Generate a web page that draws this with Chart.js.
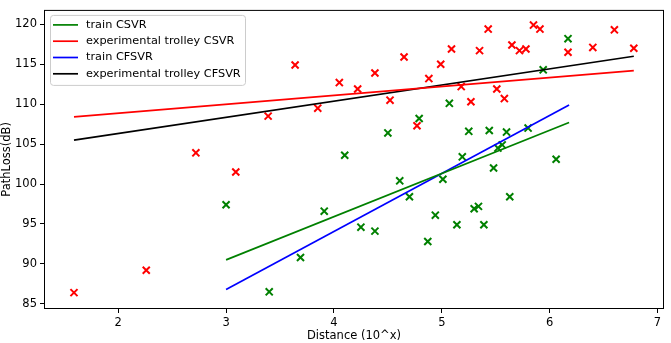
<!DOCTYPE html>
<html>
<head>
<meta charset="utf-8">
<script src="https://cdn.jsdelivr.net/npm/chart.js@4"></script>
<style>
  html, body { margin: 0; padding: 0; background: #fff; }
  #wrap { width: 671px; height: 343px; }
</style>
</head>
<body>
<div id="wrap"><canvas id="plChart"></canvas></div>
<script>
// measured points (distance as 10^x, path loss dB)
const trainX = [3.00, 3.40, 3.69, 3.91, 4.10, 4.25, 4.38, 4.50, 4.61, 4.70, 4.79, 4.87, 4.94, 5.01, 5.07, 5.14,
  5.19, 5.25, 5.30, 5.34, 5.39, 5.44, 5.48, 5.52, 5.56, 5.60, 5.63, 5.80, 5.94, 6.06, 6.17];
const trainY = [97.4, 86.5, 90.8, 96.6, 103.6, 94.6, 94.1, 106.4, 100.4, 98.4, 108.2, 92.8, 96.1, 100.6, 110.1, 94.9,
  103.4, 106.6, 96.9, 97.2, 94.9, 106.7, 102.0, 104.5, 104.9, 106.5, 98.4, 107.0, 114.3, 103.1, 118.2];

const trolleyX = [1.59, 2.26, 2.72, 3.09, 3.39, 3.64, 3.85, 4.05, 4.22, 4.38, 4.52, 4.65, 4.77, 4.88, 4.99, 5.09,
  5.18, 5.27, 5.35, 5.43, 5.51, 5.58, 5.65, 5.72, 5.78, 5.85, 5.91, 6.17, 6.40, 6.60, 6.78];
const trolleyY = [86.4, 89.2, 103.9, 101.5, 108.5, 114.9, 109.5, 112.7, 111.9, 113.9, 110.5, 115.9, 107.3, 113.2, 115.0, 116.9,
  112.2, 110.3, 116.7, 119.4, 111.9, 110.7, 117.4, 116.7, 116.9, 119.9, 119.4, 116.5, 117.1, 119.3, 117.0];

// fitted lines (start / end)
const trainLineX = [3.0, 6.18];
const trainCSVR = [90.5, 107.7];
const trainCFSVR = [86.8, 109.9];
const trolleyLineX = [1.59, 6.78];
const trolleyCSVR = [108.4, 114.2];
const trolleyCFSVR = [105.5, 116.0];

const xTicks = [2, 3, 4, 5, 6, 7];
const yTicks = [85, 90, 95, 100, 105, 110, 115, 120];

const toPts = (xs, ys) => xs.map((x, i) => ({ x: x, y: ys[i] }));

function lineSet(label, ys, xs, color) {
  return {
    type: 'line', label: label, data: toPts(xs, ys),
    borderColor: color, backgroundColor: color, borderWidth: 1.7,
    pointRadius: 0, fill: false, isLine: true
  };
}
function dotSet(label, xs, ys, color) {
  return {
    type: 'scatter', label: label, data: toPts(xs, ys),
    pointStyle: 'crossRot', pointRadius: 5, pointBorderWidth: 2,
    borderColor: color, backgroundColor: color
  };
}

const font = { family: 'DejaVu Sans', size: 11.5 };

new Chart(document.getElementById('plChart'), {
  data: {
    datasets: [
      lineSet('train CSVR', trainCSVR, trainLineX, 'green'),
      lineSet('experimental trolley CSVR', trolleyCSVR, trolleyLineX, '#ff0000'),
      lineSet('train CFSVR', trainCFSVR, trainLineX, '#0000ff'),
      lineSet('experimental trolley CFSVR', trolleyCFSVR, trolleyLineX, '#000000'),
      dotSet('train data', trainX, trainY, 'green'),
      dotSet('trolley data', trolleyX, trolleyY, '#ff0000')
    ]
  },
  options: {
    responsive: true,
    maintainAspectRatio: false,
    animation: false,
    layout: { padding: { top: 0, right: 1, left: 0, bottom: 0 } },
    plugins: {
      legend: { display: false },
      tooltip: { enabled: false }
    },
    scales: {
      x: {
        type: 'linear', min: 1.312, max: 7.06,
        afterBuildTicks: s => { s.ticks = xTicks.map(v => ({ value: v })); },
        afterFit: s => { s.height = 34; },
        grid: { drawOnChartArea: false, drawTicks: true, tickLength: 4, color: '#000', tickColor: '#000' },
        border: { display: false },
        ticks: { color: '#000', font: font, padding: 3, maxRotation: 0 },
        title: { display: true, text: 'Distance (10^x)', color: '#000', font: font, padding: { top: 0, bottom: 0 } }
      },
      y: {
        type: 'linear', min: 84.35, max: 121.8,
        afterBuildTicks: s => { s.ticks = yTicks.map(v => ({ value: v })); },
        afterFit: s => { s.width = 44; },
        grid: { drawOnChartArea: false, drawTicks: true, tickLength: 4, color: '#000', tickColor: '#000' },
        border: { display: false },
        ticks: { color: '#000', font: font, padding: 3 },
        title: { display: true, text: 'PathLoss(dB)', color: '#000', font: font, padding: { top: 0, bottom: 0 } }
      }
    }
  },
  plugins: [{
    id: 'frameAndLegend',
    afterDraw: function (chart) {
      const { ctx, chartArea: a } = chart;
      ctx.save();
      ctx.strokeStyle = '#000';
      ctx.lineWidth = 1;
      ctx.strokeRect(a.left + 0.5, a.top + 0.5, a.right - a.left - 1, a.bottom - a.top - 1);

      // legend box in the upper left, only the fitted lines
      const items = chart.data.datasets.filter(d => d.isLine);
      const bx = a.left + 6, by = a.top + 5, bw = 195, bh = 70;
      ctx.fillStyle = 'rgba(255,255,255,0.8)';
      ctx.strokeStyle = '#cccccc';
      ctx.beginPath();
      ctx.roundRect(bx + 0.5, by + 0.5, bw, bh, 3);
      ctx.fill();
      ctx.stroke();

      ctx.font = '11.3px "DejaVu Sans"';
      ctx.textBaseline = 'middle';
      items.forEach((d, i) => {
        const yy = by + 10 + i * 16.3;
        ctx.strokeStyle = d.borderColor;
        ctx.lineWidth = 1.7;
        ctx.beginPath();
        ctx.moveTo(bx + 3, yy);
        ctx.lineTo(bx + 28, yy);
        ctx.stroke();
        ctx.fillStyle = '#000';
        ctx.fillText(d.label, bx + 36, yy);
      });
      ctx.restore();
    }
  }]
});
</script>
</body>
</html>
